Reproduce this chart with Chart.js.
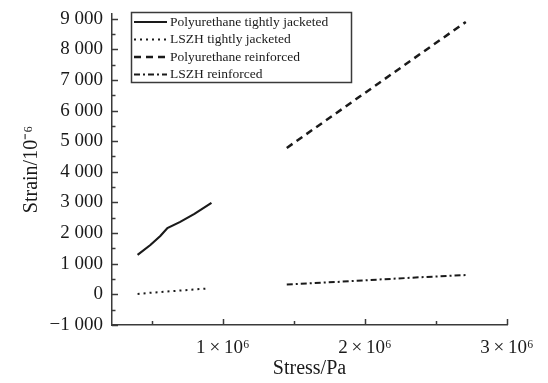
<!DOCTYPE html>
<html>
<head>
<meta charset="utf-8">
<script src="https://cdn.jsdelivr.net/npm/chart.js@4"></script>
<style>
  html, body { margin: 0; padding: 0; background: #fff; }
  #wrap { width: 548px; height: 383px; }
</style>
</head>
<body>
<div id="wrap"><canvas id="chart"></canvas></div>
<script>
// --- DATA ---
const seriesNames = ['Polyurethane tightly jacketed', 'LSZH tightly jacketed', 'Polyurethane reinforced', 'LSZH reinforced'];

const puTightStress = [0.40e6, 0.49e6, 0.56e6, 0.61e6, 0.70e6, 0.80e6, 0.92e6];
const puTightStrain = [1290, 1610, 1905, 2165, 2365, 2625, 2985];

const lszhTightStress = [0.40e6, 0.50e6, 0.60e6, 0.70e6, 0.80e6, 0.90e6];
const lszhTightStrain = [15, 55, 90, 125, 160, 195];

const puReinfStress = [1.45e6, 1.80e6, 2.10e6, 2.40e6, 2.71e6];
const puReinfStrain = [4780, 5920, 6900, 7880, 8890];

const lszhReinfStress = [1.45e6, 1.80e6, 2.10e6, 2.40e6, 2.71e6];
const lszhReinfStrain = [320, 405, 485, 560, 630];

const xMajorTicks = [1e6, 2e6, 3e6];
const xMinorTicks = [0.5e6, 1.5e6, 2.5e6];
const yMajorTicks = [-1000, 0, 1000, 2000, 3000, 4000, 5000, 6000, 7000, 8000, 9000];
const yMinorTicks = [-500, 500, 1500, 2500, 3500, 4500, 5500, 6500, 7500, 8500];

const SERIF = '"Liberation Serif", "Times New Roman", serif';
const INK = '#1a1a1a';
const AXIS = '#3a3a3a';

function toPoints(xs, ys) {
    return xs.map((x, i) => ({ x: x, y: ys[i] }));
}

function fmtThousands(v) {
    const s = String(Math.abs(v)).replace(/\B(?=(\d{3})+(?!\d))/g, ' ');
    return v < 0 ? '\u2212' + s : s;
}

// --- INWARD TICKS ---
const innerTicks = {
    id: 'innerTicks',
    afterDraw(chart) {
        const ctx = chart.ctx;
        const xs = chart.scales.x, ys = chart.scales.y;
        ctx.save();
        ctx.strokeStyle = AXIS;
        ctx.lineWidth = 1.5;
        const tickX = (vals, len) => vals.forEach(v => {
            const px = Math.round(xs.getPixelForValue(v)) + 0.5;
            ctx.beginPath();
            ctx.moveTo(px, ys.bottom);
            ctx.lineTo(px, ys.bottom - len);
            ctx.stroke();
        });
        const tickY = (vals, len) => vals.forEach(v => {
            const py = Math.round(ys.getPixelForValue(v)) + 0.5;
            ctx.beginPath();
            ctx.moveTo(xs.left, py);
            ctx.lineTo(xs.left + len, py);
            ctx.stroke();
        });
        tickX(xMajorTicks, 6);
        tickX(xMinorTicks, 4);
        tickY(yMajorTicks, 6);
        tickY(yMinorTicks, 3.5);
        ctx.restore();
    }
};

// --- BOXED LEGEND ---
const boxLegend = {
    id: 'boxLegend',
    afterDraw(chart) {
        const ctx = chart.ctx;
        const left = 131, top = 12, width = 220, height = 70;
        ctx.save();
        ctx.strokeStyle = AXIS;
        ctx.lineWidth = 1.5;
        ctx.strokeRect(left + 0.5, top + 0.5, width, height);
        ctx.font = '13.5px ' + SERIF;
        ctx.fillStyle = INK;
        ctx.textBaseline = 'middle';
        chart.data.datasets.forEach((ds, i) => {
            const y = top + 10 + i * 17.5;
            ctx.beginPath();
            ctx.setLineDash(ds.borderDash || []);
            ctx.lineWidth = ds.borderWidth;
            ctx.strokeStyle = ds.borderColor;
            ctx.moveTo(left + 3, y);
            ctx.lineTo(left + 36, y);
            ctx.stroke();
            ctx.setLineDash([]);
            ctx.fillText(ds.label, left + 39, y);
        });
        ctx.restore();
    }
};

const ctx = document.getElementById('chart').getContext('2d');

new Chart(ctx, {
    type: 'scatter',
    data: {
        datasets: [
            { label: seriesNames[0], data: toPoints(puTightStress, puTightStrain), borderColor: INK, borderWidth: 2.2, borderDash: [] },
            { label: seriesNames[1], data: toPoints(lszhTightStress, lszhTightStrain), borderColor: INK, borderWidth: 2, borderDash: [2, 4] },
            { label: seriesNames[2], data: toPoints(puReinfStress, puReinfStrain), borderColor: INK, borderWidth: 2.5, borderDash: [7, 5] },
            { label: seriesNames[3], data: toPoints(lszhReinfStress, lszhReinfStrain), borderColor: INK, borderWidth: 2, borderDash: [6, 3, 2, 3] }
        ].map(d => Object.assign(d, { showLine: true, pointRadius: 0, fill: false, tension: 0 }))
    },
    options: {
        responsive: true,
        maintainAspectRatio: false,
        animation: false,
        layout: { padding: { left: 0, top: 14, right: 41, bottom: 0 } },
        plugins: { legend: { display: false }, tooltip: { enabled: false } },
        scales: {
            x: {
                type: 'linear',
                min: 0.22e6,
                max: 3e6,
                afterFit: s => { s.height = 58; s.paddingLeft = 0; s.paddingRight = 0; },
                afterBuildTicks: s => { s.ticks = xMajorTicks.map(v => ({ value: v })); },
                grid: { display: false, drawTicks: false },
                border: { display: true, color: AXIS, width: 1.5 },
                ticks: {
                    autoSkip: false,
                    maxRotation: 0,
                    padding: 12,
                    color: INK,
                    font: { family: SERIF, size: 19 },
                    callback: v => (v / 1e6) + '\u2009\u00d7\u200910\u2076'
                },
                title: {
                    display: true,
                    text: 'Stress/Pa',
                    color: INK,
                    font: { family: SERIF, size: 20 },
                    padding: { top: 0, bottom: 2 }
                }
            },
            y: {
                type: 'linear',
                min: -1000,
                max: 9150,
                afterFit: s => { s.width = 112; s.paddingTop = 0; s.paddingBottom = 0; },
                afterBuildTicks: s => { s.ticks = yMajorTicks.map(v => ({ value: v })); },
                grid: { display: false, drawTicks: false },
                border: { display: true, color: AXIS, width: 1.5 },
                ticks: {
                    autoSkip: false,
                    padding: 9,
                    color: INK,
                    font: { family: SERIF, size: 19 },
                    callback: v => fmtThousands(v)
                },
                title: {
                    display: true,
                    text: 'Strain/10\u207b\u2076',
                    color: INK,
                    font: { family: SERIF, size: 20 },
                    padding: { top: 20, bottom: 0 }
                }
            }
        }
    },
    plugins: [innerTicks, boxLegend]
});
</script>
</body>
</html>
